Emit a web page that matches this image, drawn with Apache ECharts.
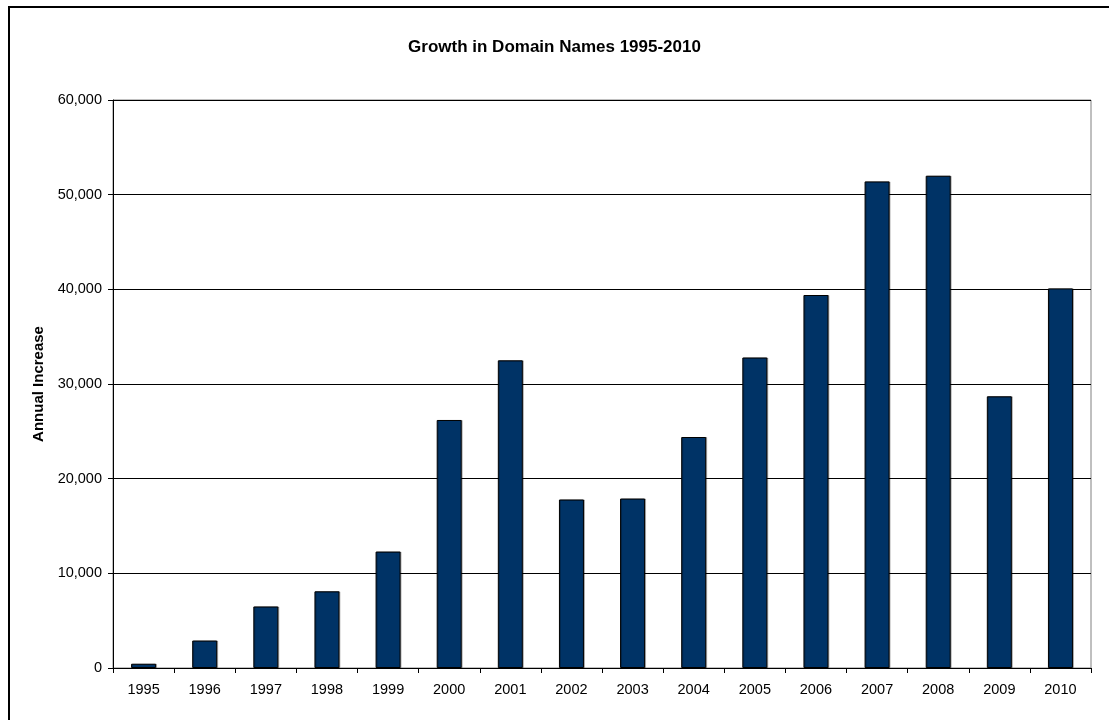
<!DOCTYPE html>
<html>
<head>
<meta charset="utf-8">
<script src="https://cdn.jsdelivr.net/npm/echarts@6/dist/echarts.min.js"></script>
<style>
  html, body { margin: 0; padding: 0; background: #ffffff; }
  #chart { width: 1109px; height: 720px; }
</style>
</head>
<body>
<div id="chart"></div>
<script>
// Annual increase in registered domain names
const years = ['1995', '1996', '1997', '1998', '1999', '2000', '2001', '2002',
               '2003', '2004', '2005', '2006', '2007', '2008', '2009', '2010'];
const annualIncrease = [450, 2900, 6500, 8100, 12300, 26200, 32500, 17800,
                        17900, 24400, 32800, 39400, 51400, 52000, 28700, 40100];

const chartTitle = 'Growth in Domain Names 1995-2010';
const yAxisTitle = 'Annual Increase';

const chart = echarts.init(document.getElementById('chart'), null, { renderer: 'canvas' });

const fontFamily = '"Liberation Sans", Arial, sans-serif';

chart.setOption({
  animation: false,
  backgroundColor: '#ffffff',
  title: {
    text: chartTitle,
    left: 'center',
    top: 34,
    textStyle: { fontFamily, fontSize: 17, fontWeight: 'bold', color: '#000000' }
  },
  graphic: [
    {
      // outer frame of the chart area, running off the right and bottom edges
      type: 'rect',
      shape: { x: 9, y: 7, width: 1200, height: 800 },
      style: { fill: 'none', stroke: '#000000', lineWidth: 2 },
      silent: true,
      z: 100
    }
  ],
  grid: {
    left: 113,
    right: 18,
    top: 100,
    bottom: 52,
    show: true,
    borderColor: '#808080',
    borderWidth: 1,
    backgroundColor: 'transparent'
  },
  xAxis: {
    type: 'category',
    data: years,
    axisLine: { show: true, lineStyle: { color: '#000000', width: 1 } },
    axisTick: { show: true, alignWithLabel: false, length: 5, lineStyle: { color: '#000000' } },
    axisLabel: { fontFamily, fontSize: 14.5, color: '#000000', margin: 14 },
    splitLine: { show: false }
  },
  yAxis: {
    type: 'value',
    min: 0,
    max: 60000,
    interval: 10000,
    name: yAxisTitle,
    nameLocation: 'middle',
    nameGap: 62,
    nameRotate: 90,
    nameTextStyle: { fontFamily, fontSize: 15, fontWeight: 'bold', color: '#000000' },
    axisLine: { show: true, lineStyle: { color: '#000000', width: 1 } },
    axisTick: { show: true, length: 5, lineStyle: { color: '#000000' } },
    axisLabel: {
      fontFamily, fontSize: 14.5, color: '#000000', margin: 11,
      formatter: v => v.toLocaleString('en-US')
    },
    splitLine: { show: true, lineStyle: { color: '#000000', width: 1 } }
  },
  series: [
    {
      type: 'bar',
      data: annualIncrease,
      barWidth: 25,
      itemStyle: {
        color: '#003366',
        borderColor: '#000000',
        borderWidth: 1,
        shadowColor: 'rgba(0,0,0,0.25)',
        shadowOffsetX: 1,
        shadowBlur: 0
      }
    }
  ]
});
</script>
</body>
</html>
